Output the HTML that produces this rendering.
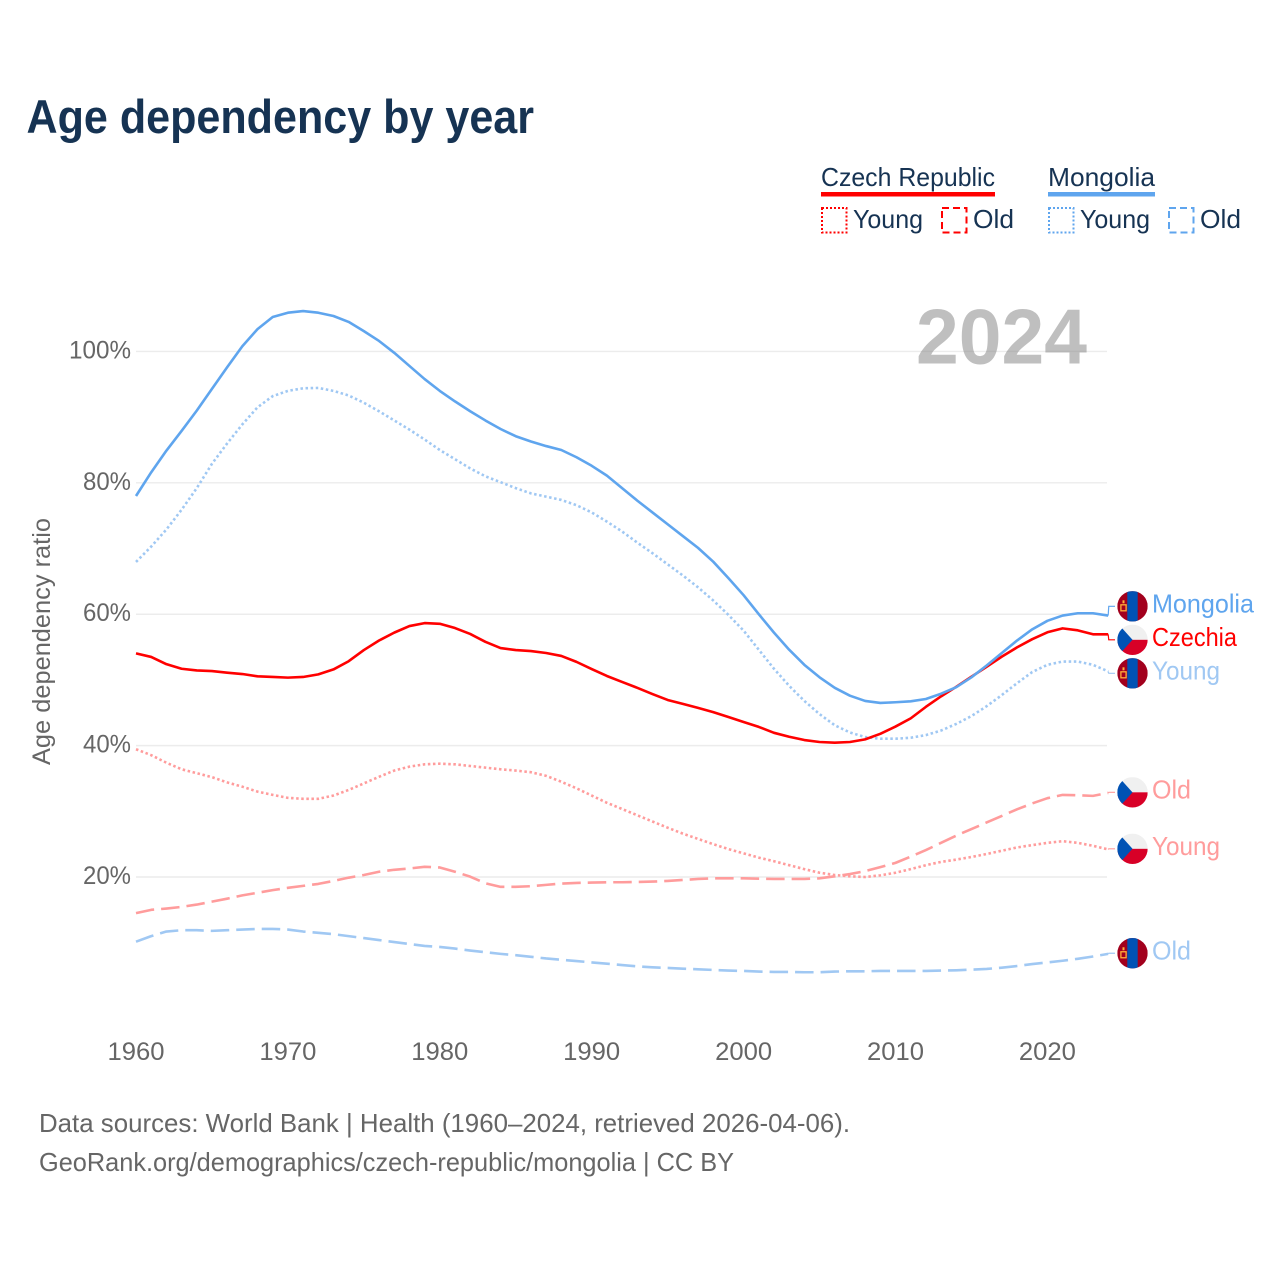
<!DOCTYPE html>
<html lang="en">
<head>
<meta charset="utf-8">
<title>Age dependency by year</title>
<style>
  html, body { margin: 0; padding: 0; background: #fff; }
  svg { display: block; font-family: "Liberation Sans", sans-serif; }
</style>
</head>
<body>
<svg id="chart" xmlns="http://www.w3.org/2000/svg" width="1280" height="1280" viewBox="0 0 1280 1280">
  <rect x="0" y="0" width="1280" height="1280" fill="#fff"/>
  <text x="26.5" y="133" font-size="47" font-weight="700" fill="#163353" textLength="507.5" lengthAdjust="spacingAndGlyphs">Age dependency by year</text>

  <g font-size="26" fill="#163353">
    <text x="821" y="186" textLength="174" lengthAdjust="spacingAndGlyphs">Czech Republic</text>
    <rect x="821" y="192" width="174" height="4.5" fill="#ff0000"/>
    <rect x="822" y="208" width="24.5" height="24.5" fill="none" stroke="#ff0000" stroke-width="2" stroke-dasharray="2 2"/>
    <text x="853" y="228" textLength="70" lengthAdjust="spacingAndGlyphs">Young</text>
    <rect x="942" y="208" width="24.5" height="24.5" fill="none" stroke="#ff0000" stroke-width="2" stroke-dasharray="7 4"/>
    <text x="973" y="228" textLength="41" lengthAdjust="spacingAndGlyphs">Old</text>
    <text x="1048" y="186" textLength="107" lengthAdjust="spacingAndGlyphs">Mongolia</text>
    <rect x="1048" y="192" width="107" height="4.5" fill="#5fa5ee"/>
    <rect x="1049" y="208" width="24.5" height="24.5" fill="none" stroke="#5fa5ee" stroke-width="2" stroke-dasharray="2 2"/>
    <text x="1080" y="228" textLength="70" lengthAdjust="spacingAndGlyphs">Young</text>
    <rect x="1169" y="208" width="24.5" height="24.5" fill="none" stroke="#5fa5ee" stroke-width="2" stroke-dasharray="7 4"/>
    <text x="1200" y="228" textLength="41" lengthAdjust="spacingAndGlyphs">Old</text>
  </g>

  <g id="grid"></g>
  <g id="yticks"></g>
  <g id="xticks"></g>
  <text transform="translate(50,765) rotate(-90)" x="0" y="0" font-size="25" fill="#666666" textLength="247" lengthAdjust="spacingAndGlyphs">Age dependency ratio</text>
  <text x="916" y="363.5" font-size="78" font-weight="700" fill="#808080" fill-opacity="0.5" textLength="171" lengthAdjust="spacingAndGlyphs">2024</text>

  <g id="series"></g>
  <g id="endlabels"></g>

  <text x="39" y="1132" font-size="26" fill="#666666" textLength="811" lengthAdjust="spacingAndGlyphs">Data sources: World Bank | Health (1960–2024, retrieved 2026-04-06).</text>
  <text x="39" y="1171" font-size="26" fill="#666666" textLength="695" lengthAdjust="spacingAndGlyphs">GeoRank.org/demographics/czech-republic/mongolia | CC BY</text>
</svg>

<script>
const startYear = 1960;
const xTickLabels = [1960, 1970, 1980, 1990, 2000, 2010, 2020];
const yTickLabels = [20, 40, 60, 80, 100];

const mongoliaTotal = [
  78.0, 81.6, 84.9, 87.9, 91.0, 94.3, 97.6, 100.8, 103.4, 105.25,
  105.9, 106.15, 105.9, 105.4, 104.5, 103.1, 101.6, 99.8, 97.8, 95.8,
  94.0, 92.4, 90.9, 89.5, 88.2, 87.1, 86.3, 85.6, 85.0, 83.9,
  82.6, 81.1, 79.2, 77.3, 75.5, 73.7, 71.9, 70.1, 68.0, 65.5,
  62.9, 60.0, 57.2, 54.6, 52.3, 50.4, 48.8, 47.6, 46.8, 46.5,
  46.6, 46.75, 47.1, 47.9, 48.9, 50.4, 52.2, 54.1, 56.0, 57.7,
  59.0, 59.8, 60.15, 60.15, 59.8
];
const czechiaTotal = [
  54.05, 53.5, 52.4, 51.7, 51.45, 51.35, 51.1, 50.9, 50.55, 50.45,
  50.35, 50.45, 50.85, 51.6, 52.85, 54.55, 56.0, 57.2, 58.2, 58.65,
  58.55, 57.9, 57.0, 55.8, 54.85, 54.55, 54.4, 54.1, 53.65, 52.75,
  51.65, 50.6, 49.7, 48.8, 47.85, 46.95, 46.35, 45.75, 45.1, 44.35,
  43.6, 42.85, 41.95, 41.35, 40.85, 40.55, 40.45, 40.55, 40.95, 41.8,
  42.9, 44.15, 45.9, 47.5, 48.95, 50.5, 52.0, 53.55, 54.95, 56.2,
  57.25, 57.85, 57.55, 56.95, 56.95
];
const mongoliaYoung = [
  67.96, 70.3, 72.9, 75.9, 79.2, 82.9, 86.0, 88.9, 91.5, 93.2,
  94.0, 94.4, 94.45, 94.0, 93.3, 92.2, 90.9, 89.5, 88.1, 86.6,
  85.0, 83.6, 82.2, 81.0, 80.1, 79.2, 78.4, 77.9, 77.4, 76.6,
  75.5, 74.1, 72.6, 70.9, 69.3, 67.6, 65.9, 64.1, 62.1, 59.9,
  57.5, 54.6, 51.7, 49.1, 46.8, 44.8, 43.1, 42.0, 41.3, 41.05,
  41.05, 41.2, 41.6, 42.3, 43.3, 44.5, 46.0, 47.7, 49.5, 51.2,
  52.3, 52.8, 52.8, 52.3, 51.3
];
const mongoliaOld = [
  10.15, 11.0, 11.7, 11.9, 11.9, 11.8, 11.9, 12.0, 12.1, 12.1,
  12.0, 11.7, 11.5, 11.3, 11.0, 10.7, 10.4, 10.1, 9.8, 9.5,
  9.35, 9.1, 8.8, 8.55, 8.3, 8.1, 7.85, 7.6, 7.4, 7.2,
  7.0, 6.8, 6.6, 6.4, 6.25, 6.15, 6.05, 5.95, 5.85, 5.75,
  5.7, 5.6, 5.55, 5.55, 5.5, 5.5, 5.6, 5.65, 5.65, 5.7,
  5.7, 5.7, 5.7, 5.75, 5.8, 5.9, 6.0, 6.2, 6.45, 6.75,
  7.0, 7.25, 7.55, 7.9, 8.3
];
const czechiaYoung = [
  39.45, 38.55, 37.4, 36.4, 35.8, 35.2, 34.4, 33.75, 33.0, 32.5,
  32.05, 31.9, 31.9, 32.4, 33.25, 34.25, 35.25, 36.2, 36.8, 37.15,
  37.25, 37.15, 36.9, 36.65, 36.4, 36.2, 35.95, 35.4, 34.5, 33.5,
  32.4, 31.3, 30.35, 29.4, 28.45, 27.5, 26.6, 25.8, 25.0, 24.25,
  23.6, 22.95, 22.4, 21.8, 21.2, 20.65, 20.3, 20.1, 20.0, 20.25,
  20.65, 21.2, 21.8, 22.3, 22.65, 23.05, 23.5, 24.0, 24.5, 24.85,
  25.2, 25.45, 25.2, 24.75, 24.2
];
const czechiaOld = [
  14.5, 15.0, 15.2, 15.45, 15.8, 16.25, 16.7, 17.2, 17.6, 18.0,
  18.35, 18.65, 18.95, 19.4, 19.9, 20.3, 20.8, 21.1, 21.3, 21.55,
  21.45, 20.8, 20.05, 19.05, 18.5, 18.5, 18.6, 18.8, 19.0, 19.1,
  19.15, 19.2, 19.2, 19.25, 19.3, 19.4, 19.55, 19.7, 19.8, 19.8,
  19.8, 19.75, 19.7, 19.7, 19.7, 19.8, 20.1, 20.45, 20.9, 21.5,
  22.15, 23.1, 24.1, 25.2, 26.3, 27.3, 28.3, 29.3, 30.3, 31.2,
  32.0, 32.5, 32.45, 32.35, 32.8
];

const seriesLabels = ["Mongolia", "Czechia", "Young", "Young", "Old", "Old"];
const seriesCountries = ["mongolia", "czechia", "mongolia", "czechia", "czechia", "mongolia"];
const seriesValues = [mongoliaTotal, czechiaTotal, mongoliaYoung, czechiaYoung, czechiaOld, mongoliaOld];

const SVG_NS = "http://www.w3.org/2000/svg";
const x = (year) => 136 + (year - 1960) * 15.19;
const y = (value) => 877 - (value - 20) * 6.569;

function mk(tag, attrs, parent, text) {
  const el = document.createElementNS(SVG_NS, tag);
  for (const k in attrs) el.setAttribute(k, attrs[k]);
  if (text !== undefined) el.textContent = text;
  parent.appendChild(el);
  return el;
}

const styleOf = {
  mongolia: { Mongolia: ["#5fa5ee", "none"], Young: ["#a0c8f3", "2.5 2.6"], Old: ["#a0c8f3", "18.5 7"] },
  czechia: { Czechia: ["#ff0000", "none"], Young: ["#ff9c9c", "2.5 2.6"], Old: ["#ff9c9c", "18.5 7"] }
};

const gridG = document.getElementById("grid");
const yTickG = document.getElementById("yticks");
const xTickG = document.getElementById("xticks");
const seriesG = document.getElementById("series");
const labelG = document.getElementById("endlabels");

yTickLabels.forEach((v) => {
  const line = mk("line", { x1: 136, x2: 1107, y1: y(v), y2: y(v), stroke: "#ececec", "stroke-width": 1.4 }, gridG);
  
  
  const label = v + "%";
  const tick = mk("text", { x: 131, y: y(v) + 7, "text-anchor": "end", "font-size": 25, fill: "#666666", textLength: v === 100 ? 62 : 48, lengthAdjust: "spacingAndGlyphs" }, yTickG, label);
  
  
});

xTickLabels.forEach((yr) => {
  const tick = mk("text", { x: x(yr), y: 1060, "text-anchor": "middle", "font-size": 25, fill: "#666666", textLength: 57, lengthAdjust: "spacingAndGlyphs" }, xTickG, String(yr));
  
  
});

/* draw lines back to front */
[5, 4, 3, 2, 1, 0].forEach((i) => {
  const vals = seriesValues[i];
  const st = styleOf[seriesCountries[i]][seriesLabels[i]];
  const d = vals.map((v, k) => (k ? "L" : "M") + x(startYear + k).toFixed(2) + " " + y(v).toFixed(2)).join("");
  const p = mk("path", { d: d, fill: "none", stroke: st[0], "stroke-width": 2.6, "stroke-linejoin": "round", "stroke-dasharray": st[1] }, seriesG);
  
  
});

/* dodge end labels so they keep a fixed minimum gap */
const GAP = 33.5;
function dodge(ends) {
  const order = ends.map((v, i) => ({ i: i, y: v })).sort((a, b) => a.y - b.y);
  let clusters = order.map((o) => ({ items: [o], mean: o.y }));
  let merged = true;
  const top = (c) => c.mean - (c.items.length - 1) * GAP / 2;
  const bottom = (c) => c.mean + (c.items.length - 1) * GAP / 2;
  while (merged) {
    merged = false;
    for (let k = 0; k < clusters.length - 1; k++) {
      if (bottom(clusters[k]) + GAP > top(clusters[k + 1])) {
        const items = clusters[k].items.concat(clusters[k + 1].items);
        const mean = items.reduce((s, o) => s + o.y, 0) / items.length;
        clusters.splice(k, 2, { items: items, mean: mean });
        merged = true;
        break;
      }
    }
  }
  const out = [];
  clusters.forEach((c) => c.items.forEach((o, n) => { out[o.i] = top(c) + n * GAP; }));
  return out;
}

function drawFlag(country, cy, parent, id) {
  const cx = 1132.5, r = 15.2;
  const g = mk("g", {}, parent);
  
  
  const defs = mk("defs", {}, g);
  const cp = mk("clipPath", { id: id }, defs);
  mk("circle", { cx: cx, cy: cy, r: r }, cp);
  const inner = mk("g", { "clip-path": "url(#" + id + ")" }, g);
  if (country === "mongolia") {
    mk("rect", { x: cx - r, y: cy - r, width: 2 * r, height: 2 * r, fill: "#a2001d" }, inner);
    mk("rect", { x: cx - 5.2, y: cy - r, width: 10.4, height: 2 * r, fill: "#0052b4" }, inner);
    mk("rect", { x: cx - 11.6, y: cy - 1.5, width: 5.2, height: 6, fill: "none", stroke: "#ffb03a", "stroke-width": 1.3 }, inner);
    mk("rect", { x: cx - 10, y: cy - 6, width: 2, height: 3, fill: "#ffb03a" }, inner);
  } else {
    mk("rect", { x: cx - r, y: cy - r, width: 2 * r, height: r, fill: "#f0f0f0" }, inner);
    mk("rect", { x: cx - r, y: cy, width: 2 * r, height: r, fill: "#d80027" }, inner);
    mk("path", { d: "M" + (cx - 10.8) + " " + (cy - 12) + "L" + cx + " " + cy + "L" + (cx - 10.8) + " " + (cy + 12) + "L" + (cx - r) + " " + (cy + 12) + "V" + (cy - 12) + "Z", fill: "#0052b4" }, inner);
  }
}

const endPix = seriesValues.map((vals) => y(vals[vals.length - 1]));
const labelYs = dodge(endPix).map((v) => v - 0.6);

seriesValues.forEach((vals, i) => {
  const country = seriesCountries[i];
  const name = seriesLabels[i];
  const st = styleOf[country][name];
  const ly = labelYs[i];
  const endX = x(startYear + vals.length - 1);
  const leader = mk("path", { d: "M" + endX + " " + endPix[i] + "L" + (endX + 0.6) + " " + ly + "H1115", fill: "none", stroke: st[0], "stroke-width": 1.2 }, labelG);
  
  
  drawFlag(country, ly, labelG, "flag-clip-" + i);
  const widths = { Mongolia: 102, Czechia: 85, Young: 68, Old: 39 };
  const t = mk("text", { x: 1152, y: ly + 6, "font-size": 26, fill: st[0], textLength: widths[name], lengthAdjust: "spacingAndGlyphs" }, labelG, name);
  
  
});
</script>
</body>
</html>
